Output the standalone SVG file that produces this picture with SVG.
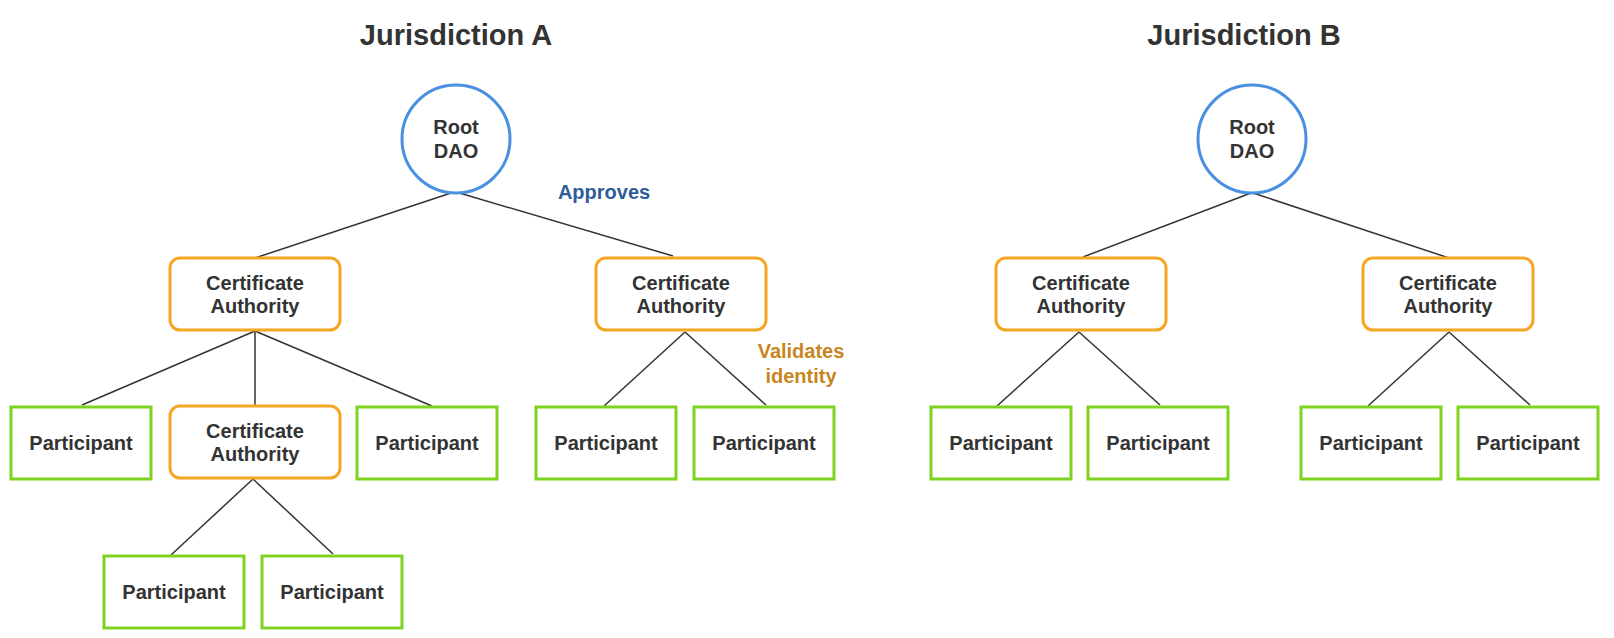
<svg xmlns="http://www.w3.org/2000/svg" width="1614" height="638" viewBox="0 0 1614 638">
<style>
text{font-family:"Liberation Sans",Arial,Helvetica,sans-serif;font-weight:bold;text-anchor:middle;fill:#333}
.title{font-size:29px}
.lbl{font-size:20px}
.root{fill:#fff;stroke:#4a90e2;stroke-width:3}
.ca{fill:#fff;stroke:#f5a623;stroke-width:3}
.p{fill:#fff;stroke:#7ed321;stroke-width:3}
.edge{stroke:#333;stroke-width:1.5;fill:none}
.approves{fill:#2e5c99}
.validates{fill:#c8861e}
</style>
<rect width="1614" height="638" fill="#fff"/>
<g id="titles">
<text class="title" x="456" y="45">Jurisdiction A</text>
<text class="title" x="1244" y="45">Jurisdiction B</text>
</g>
<g id="connectors">
<line class="edge" x1="454" y1="192" x2="255" y2="258"/>
<line class="edge" x1="456" y1="192" x2="673" y2="256"/>
<line class="edge" x1="1251" y1="193" x2="1083" y2="257"/>
<line class="edge" x1="1253" y1="193" x2="1449" y2="258"/>
<line class="edge" x1="255" y1="331" x2="82" y2="405"/>
<line class="edge" x1="255" y1="331" x2="255" y2="406"/>
<line class="edge" x1="255" y1="331" x2="432" y2="406"/>
<line class="edge" x1="685" y1="332" x2="604" y2="406"/>
<line class="edge" x1="685" y1="332" x2="766" y2="405"/>
<line class="edge" x1="253" y1="479" x2="171" y2="555"/>
<line class="edge" x1="253" y1="479" x2="333" y2="554"/>
<line class="edge" x1="1079" y1="332" x2="997" y2="406"/>
<line class="edge" x1="1079" y1="332" x2="1160" y2="405"/>
<line class="edge" x1="1449" y1="332" x2="1368" y2="406"/>
<line class="edge" x1="1449" y1="332" x2="1530" y2="405"/>
</g>
<g id="edge-labels">
<text class="lbl approves" x="604" y="199">Approves</text>
<text class="lbl validates" x="801" y="358">Validates</text>
<text class="lbl validates" x="801" y="383">identity</text>
</g>
<g id="rootA"><circle class="root" cx="456" cy="139" r="54"/><text class="lbl" x="456" y="134">Root</text><text class="lbl" x="456" y="158">DAO</text></g>
<g id="rootB"><circle class="root" cx="1252" cy="139" r="54"/><text class="lbl" x="1252" y="134">Root</text><text class="lbl" x="1252" y="158">DAO</text></g>
<g id="caA1"><rect class="ca" x="170" y="258" width="170" height="72" rx="10"/><text class="lbl" x="255" y="290">Certificate</text><text class="lbl" x="255" y="313">Authority</text></g>
<g id="caA2"><rect class="ca" x="596" y="258" width="170" height="72" rx="10"/><text class="lbl" x="681" y="290">Certificate</text><text class="lbl" x="681" y="313">Authority</text></g>
<g id="caA3"><rect class="ca" x="170" y="406" width="170" height="72" rx="10"/><text class="lbl" x="255" y="438">Certificate</text><text class="lbl" x="255" y="461">Authority</text></g>
<g id="caB1"><rect class="ca" x="996" y="258" width="170" height="72" rx="10"/><text class="lbl" x="1081" y="290">Certificate</text><text class="lbl" x="1081" y="313">Authority</text></g>
<g id="caB2"><rect class="ca" x="1363" y="258" width="170" height="72" rx="10"/><text class="lbl" x="1448" y="290">Certificate</text><text class="lbl" x="1448" y="313">Authority</text></g>
<g id="pA1"><rect class="p" x="11" y="407" width="140" height="72"/><text class="lbl" x="81" y="450">Participant</text></g>
<g id="pA2"><rect class="p" x="357" y="407" width="140" height="72"/><text class="lbl" x="427" y="450">Participant</text></g>
<g id="pA3"><rect class="p" x="536" y="407" width="140" height="72"/><text class="lbl" x="606" y="450">Participant</text></g>
<g id="pA4"><rect class="p" x="694" y="407" width="140" height="72"/><text class="lbl" x="764" y="450">Participant</text></g>
<g id="pA5"><rect class="p" x="104" y="556" width="140" height="72"/><text class="lbl" x="174" y="599">Participant</text></g>
<g id="pA6"><rect class="p" x="262" y="556" width="140" height="72"/><text class="lbl" x="332" y="599">Participant</text></g>
<g id="pB1"><rect class="p" x="931" y="407" width="140" height="72"/><text class="lbl" x="1001" y="450">Participant</text></g>
<g id="pB2"><rect class="p" x="1088" y="407" width="140" height="72"/><text class="lbl" x="1158" y="450">Participant</text></g>
<g id="pB3"><rect class="p" x="1301" y="407" width="140" height="72"/><text class="lbl" x="1371" y="450">Participant</text></g>
<g id="pB4"><rect class="p" x="1458" y="407" width="140" height="72"/><text class="lbl" x="1528" y="450">Participant</text></g>
</svg>
